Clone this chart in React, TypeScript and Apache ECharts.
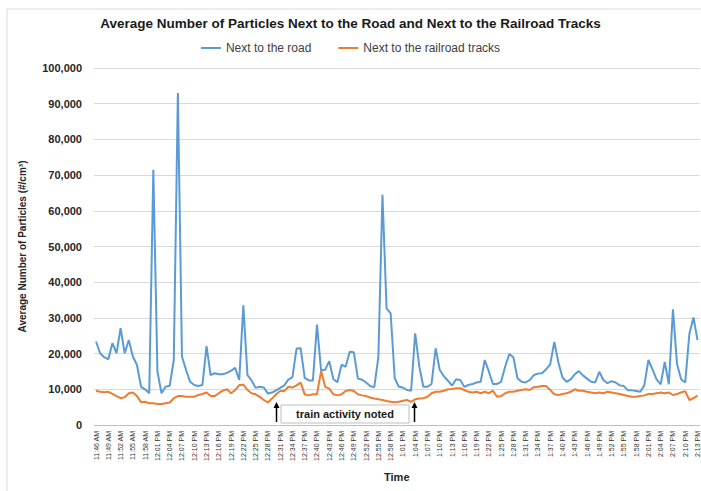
import React, { useEffect, useRef } from "react";
import * as echarts from "echarts";

const categories: string[] = [
  "11:46 AM","11:47 AM","11:48 AM","11:49 AM","11:50 AM","11:51 AM","11:52 AM","11:53 AM","11:54 AM","11:55 AM","11:56 AM","11:57 AM","11:58 AM","11:59 AM",
  "12:00 PM","12:01 PM","12:02 PM","12:03 PM","12:04 PM","12:05 PM","12:06 PM","12:07 PM","12:08 PM","12:09 PM","12:10 PM","12:11 PM","12:12 PM","12:13 PM","12:14 PM","12:15 PM",
  "12:16 PM","12:17 PM","12:18 PM","12:19 PM","12:20 PM","12:21 PM","12:22 PM","12:23 PM","12:24 PM","12:25 PM","12:26 PM","12:27 PM","12:28 PM","12:29 PM","12:30 PM",
  "12:31 PM","12:32 PM","12:33 PM","12:34 PM","12:35 PM","12:36 PM","12:37 PM","12:38 PM","12:39 PM","12:40 PM","12:41 PM","12:42 PM","12:43 PM","12:44 PM","12:45 PM",
  "12:46 PM","12:47 PM","12:48 PM","12:49 PM","12:50 PM","12:51 PM","12:52 PM","12:53 PM","12:54 PM","12:55 PM","12:56 PM","12:57 PM","12:58 PM","12:59 PM",
  "1:00 PM","1:01 PM","1:02 PM","1:03 PM","1:04 PM","1:05 PM","1:06 PM","1:07 PM","1:08 PM","1:09 PM","1:10 PM","1:11 PM","1:12 PM","1:13 PM","1:14 PM","1:15 PM",
  "1:16 PM","1:17 PM","1:18 PM","1:19 PM","1:20 PM","1:21 PM","1:22 PM","1:23 PM","1:24 PM","1:25 PM","1:26 PM","1:27 PM","1:28 PM","1:29 PM","1:30 PM",
  "1:31 PM","1:32 PM","1:33 PM","1:34 PM","1:35 PM","1:36 PM","1:37 PM","1:38 PM","1:39 PM","1:40 PM","1:41 PM","1:42 PM","1:43 PM","1:44 PM","1:45 PM",
  "1:46 PM","1:47 PM","1:48 PM","1:49 PM","1:50 PM","1:51 PM","1:52 PM","1:53 PM","1:54 PM","1:55 PM","1:56 PM","1:57 PM","1:58 PM","1:59 PM",
  "2:00 PM","2:01 PM","2:02 PM","2:03 PM","2:04 PM","2:05 PM","2:06 PM","2:07 PM","2:08 PM","2:09 PM","2:10 PM","2:11 PM","2:12 PM","2:13 PM",
];

const roadValues: number[] = [
  23400, 20100, 19000, 18400, 22900, 20100, 27100, 20100, 23800, 19200,
  16800, 10700, 10000, 8900, 71500, 15000, 8900, 10700, 11000, 18200,
  93000, 19200, 15400, 12100, 11200, 10900, 11200, 22100, 14000, 14500,
  14200, 14200, 14600, 15200, 16000, 12600, 33500, 14000, 12500, 10400,
  10700, 10500, 8800, 9100, 9700, 10400, 11100, 12700, 13400, 21400,
  21500, 13200, 12500, 12500, 28100, 15300, 15500, 17900, 12800, 12000,
  16900, 16300, 20500, 20400, 13000, 12700, 11900, 10900, 10600, 19000,
  64500, 32700, 31300, 13100, 10700, 10500, 9800, 9600, 25700, 16400,
  10700, 10700, 11500, 21500, 15400, 13700, 12400, 11000, 12800, 12600,
  10700, 11200, 11500, 11900, 12100, 18200, 15000, 11500, 11500, 12100,
  16400, 19900, 19000, 13100, 12100, 11900, 12600, 14000, 14400, 14500,
  15600, 17000, 23300, 17500, 13300, 12100, 12800, 14200, 15100, 13900,
  13000, 12100, 11900, 14900, 12600, 11700, 12300, 11900, 11100, 10900,
  9700, 9700, 9500, 9300, 11100, 18200, 15600, 12800, 11400, 17700,
  11400, 32400, 17000, 12800, 11900, 25400, 30100, 23800,
];

const railValues: number[] = [
  9600, 9300, 9200, 9300, 8700, 8100, 7500, 7800, 8900, 9100,
  8100, 6400, 6500, 6100, 6100, 5900, 5900, 6100, 6300, 7500,
  8100, 8100, 7900, 7900, 7900, 8400, 8700, 9100, 8100, 8100,
  8900, 9600, 10000, 8900, 9800, 11200, 11300, 9800, 8900, 8600,
  7900, 7000, 6300, 7400, 8600, 9500, 9500, 10700, 10500, 11100,
  11900, 8600, 8300, 8600, 8600, 15100, 10700, 10200, 8600, 8300,
  8600, 9500, 9800, 9500, 8600, 8300, 8100, 7700, 7400, 7200,
  7000, 6700, 6500, 6400, 6500, 6800, 7000, 6500, 7200, 7400,
  7500, 7900, 8900, 9300, 9300, 9600, 10000, 10100, 10300, 10300,
  9800, 9300, 9100, 9300, 8900, 9300, 8900, 9600, 7900, 8100,
  8900, 9300, 9300, 9600, 9800, 10000, 9800, 10600, 10700, 10900,
  10900, 9800, 8600, 8400, 8700, 8900, 9300, 10000, 9600, 9600,
  9300, 9100, 8900, 9100, 8900, 9300, 9100, 8900, 8700, 8400,
  8100, 7900, 7900, 8100, 8300, 8700, 8700, 8900, 9100, 8900,
  9100, 8400, 8700, 9100, 9500, 7000, 7500, 8200,
];

const seriesNames: string[] = ["Next to the road", "Next to the railroad tracks"];
const yTicks = { min: 0, max: 100000, interval: 10000 };

const FONT = "'Liberation Sans', Arial, sans-serif";

export default function App() {
  const ref = useRef<HTMLDivElement>(null);
  useEffect(() => {
    if (!ref.current) return;
    const chart = echarts.init(ref.current, null, { renderer: "svg" });
    chart.setOption({
      animation: false,
      backgroundColor: "#ffffff",
      textStyle: { fontFamily: FONT },
      title: {
        text: "Average Number of Particles Next to the Road and Next to the Railroad Tracks",
        left: "center",
        top: 11,
        textStyle: { fontFamily: FONT, fontSize: 13.5, fontWeight: "bold", color: "#1a1a1a" },
      },
      legend: {
        top: 37,
        left: "center",
        itemWidth: 20,
        itemHeight: 2,
        itemGap: 27,
        icon: "rect",
        textStyle: { fontFamily: FONT, fontSize: 12, color: "#404040" },
        data: seriesNames,
      },
      grid: { left: 94, right: 0, top: 68, bottom: 66 },
      xAxis: {
        type: "category",
        data: categories,
        boundaryGap: true,
        name: "Time",
        nameLocation: "middle",
        nameGap: 46,
        nameTextStyle: { fontFamily: FONT, fontSize: 11, fontWeight: "bold", color: "#262626" },
        axisLine: { lineStyle: { color: "#bfbfbf" } },
        axisTick: { show: false },
        axisLabel: {
          interval: 2,
          rotate: 90,
          fontSize: 7,
          color: "#333333",
          fontFamily: FONT,
          margin: 6,
        },
      },
      yAxis: {
        type: "value",
        min: yTicks.min,
        max: yTicks.max,
        interval: yTicks.interval,
        name: "Average Number of Particles (#/cm³)",
        nameLocation: "middle",
        nameGap: 67,
        nameTextStyle: { fontFamily: FONT, fontSize: 10, fontWeight: "bold", color: "#262626" },
        axisLine: { show: false },
        axisTick: { show: false },
        axisLabel: {
          fontSize: 11,
          fontWeight: "bold",
          color: "#262626",
          fontFamily: FONT,
          margin: 12,
          formatter: (v: number) => v.toLocaleString("en-US"),
        },
        splitLine: { lineStyle: { color: "#d9d9d9", width: 1 } },
      },
      series: [
        {
          name: seriesNames[0],
          type: "line",
          data: roadValues,
          symbol: "none",
          lineStyle: { color: "#5b9bd5", width: 2 },
          itemStyle: { color: "#5b9bd5" },
        },
        {
          name: seriesNames[1],
          type: "line",
          data: railValues,
          symbol: "none",
          lineStyle: { color: "#ed7d31", width: 2 },
          itemStyle: { color: "#ed7d31" },
        },
      ],
      graphic: [
        {
          type: "rect",
          shape: { x: 7, y: 9, width: 700, height: 490 },
          style: { fill: "none", stroke: "#d9d9d9", lineWidth: 1 },
          silent: true,
        },
        {
          type: "rect",
          shape: { x: 281, y: 405, width: 128, height: 18 },
          style: { fill: "#ffffff", stroke: "#bfbfbf", lineWidth: 1 },
          z: 10,
        },
        {
          type: "text",
          x: 345,
          y: 414,
          style: {
            text: "train activity noted",
            fontFamily: FONT,
            fontSize: 11,
            fontWeight: "bold",
            fill: "#1a1a1a",
            align: "center",
            verticalAlign: "middle",
          },
          z: 11,
        },
        {
          type: "line",
          shape: { x1: 276.5, y1: 422, x2: 276.5, y2: 407 },
          style: { stroke: "#000000", lineWidth: 1.5 },
          z: 11,
        },
        {
          type: "polygon",
          shape: { points: [[276.5, 402], [273.5, 408], [279.5, 408]] },
          style: { fill: "#000000" },
          z: 11,
        },
        {
          type: "line",
          shape: { x1: 414.5, y1: 422, x2: 414.5, y2: 407 },
          style: { stroke: "#000000", lineWidth: 1.5 },
          z: 11,
        },
        {
          type: "polygon",
          shape: { points: [[414.5, 402], [411.5, 408], [417.5, 408]] },
          style: { fill: "#000000" },
          z: 11,
        },
      ],
    });
    return () => chart.dispose();
  }, []);
  return (
    <div
      ref={ref}
      style={{ position: "fixed", left: 0, top: 0, width: 701, height: 491 }}
    />
  );
}
